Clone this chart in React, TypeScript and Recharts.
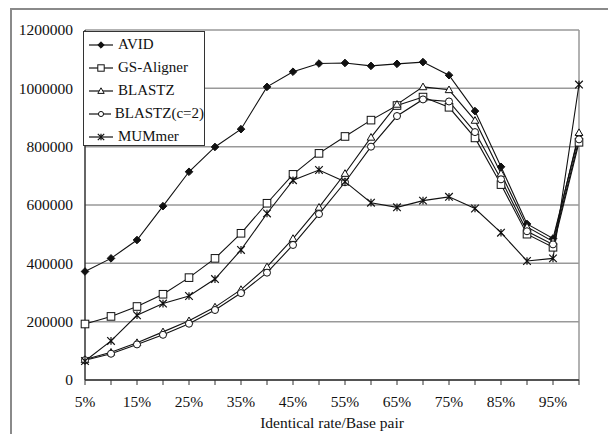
import { CartesianGrid, Line, LineChart, XAxis, YAxis } from 'recharts';

const categories = ['5%', '10%', '15%', '20%', '25%', '30%', '35%', '40%', '45%', '50%', '55%', '60%', '65%', '70%', '75%', '80%', '85%', '90%', '95%', '100%'];
const avid = [372000, 417000, 480000, 596000, 714000, 799000, 860000, 1005000, 1057000, 1085000, 1087000, 1077000, 1084000, 1090000, 1045000, 922000, 731000, 535000, 485000, 840000];
const gsAligner = [192000, 218000, 252000, 294000, 351000, 417000, 503000, 606000, 705000, 777000, 835000, 891000, 941000, 970000, 935000, 830000, 670000, 500000, 455000, 815000];
const blastz = [70000, 95000, 128000, 165000, 203000, 250000, 310000, 388000, 485000, 592000, 708000, 832000, 945000, 1005000, 995000, 890000, 708000, 525000, 475000, 848000];
const blastzC2 = [68000, 90000, 122000, 155000, 193000, 240000, 298000, 368000, 463000, 569000, 678000, 800000, 905000, 962000, 955000, 850000, 688000, 510000, 465000, 825000];
const mummer = [65000, 134000, 222000, 262000, 288000, 346000, 446000, 571000, 685000, 720000, 680000, 608000, 592000, 615000, 628000, 588000, 505000, 408000, 417000, 1013000];
const yTicks = [0, 200000, 400000, 600000, 800000, 1000000, 1200000];

const FONT = "'Liberation Serif', 'Times New Roman', serif";
const INK = '#111';
const TEXT_STYLE = { fontFamily: FONT, fontSize: '15.5px' };

const SERIES = [
  { key: 'avid', name: 'AVID', shape: 'diamond' },
  { key: 'gs', name: 'GS-Aligner', shape: 'square' },
  { key: 'blastz', name: 'BLASTZ', shape: 'triangle' },
  { key: 'blastzC2', name: 'BLASTZ(c=2)', shape: 'circle' },
  { key: 'mummer', name: 'MUMmer', shape: 'star' },
];

const data = categories.map((c, i) => ({
  cat: c,
  avid: avid[i],
  gs: gsAligner[i],
  blastz: blastz[i],
  blastzC2: blastzC2[i],
  mummer: mummer[i],
}));

function Marker({ shape, cx, cy, s }: { shape: string; cx: number; cy: number; s: number }) {
  if (shape === 'diamond') {
    return <path d={`M${cx},${cy - s}L${cx + s},${cy}L${cx},${cy + s}L${cx - s},${cy}Z`} fill={INK} stroke={INK} />;
  }
  if (shape === 'square') {
    return <rect x={cx - s} y={cy - s} width={s * 2} height={s * 2} fill="#fff" stroke={INK} strokeWidth={1} />;
  }
  if (shape === 'triangle') {
    return <path d={`M${cx},${cy - s}L${cx + s},${cy + s * 0.75}L${cx - s},${cy + s * 0.75}Z`} fill="#fff" stroke={INK} strokeWidth={1} />;
  }
  if (shape === 'circle') {
    return <circle cx={cx} cy={cy} r={s * 0.8} fill="#fff" stroke={INK} strokeWidth={1} />;
  }
  return (
    <path
      d={`M${cx - s},${cy - s}L${cx + s},${cy + s}M${cx - s},${cy + s}L${cx + s},${cy - s}M${cx},${cy - s}L${cx},${cy + s}`}
      stroke={INK}
      strokeWidth={1.2}
      fill="none"
    />
  );
}

function LegendBox() {
  return (
    <div
      style={{
        position: 'absolute',
        left: 83,
        top: 31,
        width: 122,
        height: 115,
        boxSizing: 'border-box',
        border: '1px solid #333',
        background: '#fff',
        paddingTop: 1,
        fontFamily: FONT,
        fontSize: 15,
        color: INK,
      }}
    >
      {SERIES.map((s) => (
        <div key={s.key} style={{ height: 23, display: 'flex', alignItems: 'center' }}>
          <svg width={26} height={14} style={{ marginLeft: 4, marginRight: 4 }}>
            <line x1={1} y1={7} x2={25} y2={7} stroke={INK} strokeWidth={1.2} />
            <Marker shape={s.shape} cx={13} cy={7} s={3.2} />
          </svg>
          <span style={{ whiteSpace: 'nowrap' }}>{s.name}</span>
        </div>
      ))}
    </div>
  );
}

function XTick(props: any) {
  const { x, y, payload, index } = props;
  if (index % 2 !== 0) return <g />;
  return (
    <text x={x} y={y} dy="0.71em" textAnchor="middle" fill={INK} style={TEXT_STYLE}>
      {payload.value}
    </text>
  );
}

function YTick(props: any) {
  const { x, y, payload } = props;
  return (
    <text x={x} y={y} dy="0.35em" textAnchor="end" fill={INK} style={TEXT_STYLE}>
      {payload.value}
    </text>
  );
}

export default function App() {
  return (
    <div style={{ position: 'absolute', left: 0, top: 0, width: 608, height: 434, background: '#fff', overflow: 'hidden' }}>
      <div
        style={{
          position: 'absolute',
          left: 10,
          top: 8,
          width: 620,
          height: 450,
          borderTop: '2px solid #8a8a8a',
          borderLeft: '2px solid #8a8a8a',
        }}
      />
      <div style={{ position: 'absolute', left: 0, top: 0 }}>
        <LineChart width={608} height={434} data={data} margin={{ top: 30, right: 29, bottom: 4, left: 0 }}>
          <CartesianGrid
            stroke="#999"
            strokeWidth={1.5}
            verticalCoordinatesGenerator={({ offset }: any) => [offset.left + offset.width]}
          />
          <XAxis
            dataKey="cat"
            interval={0}
            tick={<XTick />}
            tickSize={5}
            tickMargin={11}
            height={50}
            axisLine={{ stroke: '#333', strokeWidth: 1.5 }}
            tickLine={{ stroke: '#333' }}
            label={{ value: 'Identical rate/Base pair', position: 'insideBottom', offset: 2, style: TEXT_STYLE, fill: INK }}
          />
          <YAxis
            width={85}
            domain={[0, 1200000]}
            ticks={yTicks}
            interval={0}
            tickLine={false}
            tickSize={6}
            tickMargin={6}
            axisLine={{ stroke: '#333', strokeWidth: 1.5 }}
            tick={<YTick />}
          />
          {SERIES.map((s) => (
            <Line
              key={s.key}
              dataKey={s.key}
              name={s.name}
              stroke={INK}
              strokeWidth={1.1}
              isAnimationActive={false}
              dot={(p: any) => <Marker key={`${s.key}-${p.index}`} shape={s.shape} cx={p.cx} cy={p.cy} s={s.shape === 'circle' ? 4.4 : 3.8} />}
              activeDot={false}
            />
          ))}
        </LineChart>
      </div>
      <LegendBox />
    </div>
  );
}
